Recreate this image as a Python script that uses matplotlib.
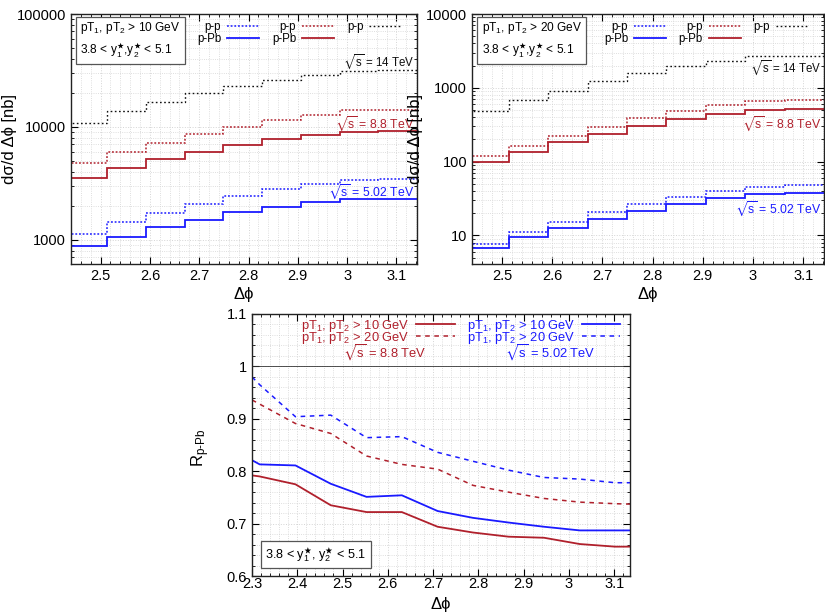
import numpy as np
import matplotlib
matplotlib.use("Agg")
import matplotlib.pyplot as plt
from matplotlib.lines import Line2D
from matplotlib.ticker import FuncFormatter, AutoMinorLocator, LogLocator, NullFormatter, MultipleLocator

plt.rcParams['font.family'] = ['Liberation Sans', 'DejaVu Sans']
plt.rcParams['mathtext.fontset'] = 'custom'
plt.rcParams['mathtext.rm'] = 'Liberation Sans'
plt.rcParams['mathtext.it'] = 'Liberation Sans:italic'
plt.rcParams['mathtext.bf'] = 'Liberation Sans:bold'
plt.rcParams['mathtext.fallback'] = 'stixsans'

# ---------------- data ----------------
phi_edges = [2.4347, 2.5133, 2.5918, 2.6704, 2.7489, 2.8274, 2.9060, 2.9845, 3.0631, 3.1416]

# pT > 10 GeV  (nb)
pp14_10   = [10900, 13900, 16500, 19900, 23100, 26100, 28700, 31300, 31700]
pp88_10   = [4800, 5970, 7160, 8610, 10060, 11460, 12770, 13970, 14130]
pPb88_10  = [3560, 4280, 5180, 6010, 6940, 7780, 8500, 9040, 9160]
pp502_10  = [1130, 1430, 1720, 2080, 2430, 2810, 3130, 3380, 3420]
pPb502_10 = [873, 1060, 1290, 1510, 1760, 1960, 2150, 2290, 2320]

# pT > 20 GeV  (nb)
pp14_20   = [481, 676, 914, 1222, 1600, 1987, 2322, 2657, 2713]
pp88_20   = [117.5, 164, 223, 296, 395, 491, 592, 670, 691]
pPb88_20  = [99.6, 137, 182, 240, 308, 379, 438, 496, 511]
pp502_20  = [7.6, 11.0, 15.0, 20.6, 26.4, 33.2, 40.0, 45.8, 47.7]
pPb502_20 = [6.8, 9.6, 12.8, 16.9, 21.7, 27.0, 31.8, 36.1, 37.2]

# nuclear modification factor
phi_R   = [2.300, 2.317, 2.396, 2.474, 2.553, 2.631, 2.710, 2.788, 2.867, 2.945, 3.024, 3.102, 3.142]
R88_10  = [0.792, 0.790, 0.775, 0.735, 0.722, 0.722, 0.694, 0.683, 0.675, 0.673, 0.661, 0.656, 0.656]
R88_20  = [0.936, 0.928, 0.891, 0.872, 0.829, 0.813, 0.804, 0.773, 0.760, 0.748, 0.741, 0.738, 0.737]
R502_10 = [0.821, 0.813, 0.811, 0.776, 0.751, 0.754, 0.724, 0.711, 0.702, 0.694, 0.687, 0.687, 0.687]
R502_20 = [0.980, 0.965, 0.904, 0.907, 0.864, 0.866, 0.836, 0.819, 0.802, 0.788, 0.785, 0.778, 0.778]

RED = '#b0202c'
BLUE = '#1a1aff'
BLACK = '#111111'
GRID = '#d4d4d4'

fig = plt.figure(figsize=(8.25, 6.12), dpi=100)
W, H = 825.0, 612.0
ax1 = fig.add_axes([71/W, 1-264/H, 346/W, 250/H])
ax2 = fig.add_axes([472/W, 1-264/H, 352/W, 250/H])
ax3 = fig.add_axes([252/W, 1-576/H, 378/W, 262/H])

TICK_FS = 10.5
LAB_FS = 12
LEG_FS = 8.3

def style_axes(ax):
    for s in ax.spines.values():
        s.set_linewidth(1.0)
        s.set_color('#222222')
    ax.tick_params(which='both', direction='in', top=True, right=True, labelsize=TICK_FS)
    ax.tick_params(which='major', length=5, width=0.8)
    ax.tick_params(which='minor', length=2.5, width=0.6)
    ax.grid(which='major', color=GRID, linestyle=':', linewidth=0.7)
    ax.grid(which='minor', color=GRID, linestyle=':', linewidth=0.6)
    ax.set_axisbelow(True)

def top_panel(ax, data, ylim, ptlabel, lab_y, ylab_x):
    pp14, pp88, pPb88, pp502, pPb502 = data
    ax.stairs(pp502, phi_edges, color=BLUE, linestyle=(0, (1.2, 1.2)), lw=1.1, baseline=None)
    ax.stairs(pPb502, phi_edges, color=BLUE, linestyle='-', lw=1.3, baseline=None)
    ax.stairs(pp88, phi_edges, color=RED, linestyle=(0, (1.2, 1.2)), lw=1.1, baseline=None)
    ax.stairs(pPb88, phi_edges, color=RED, linestyle='-', lw=1.3, baseline=None)
    ax.stairs(pp14, phi_edges, color=BLACK, linestyle=(0, (1.2, 1.8)), lw=1.0, baseline=None)
    ax.set_yscale('log')
    ax.set_xlim(2.44, np.pi)
    ax.set_ylim(*ylim)
    ax.xaxis.set_major_locator(MultipleLocator(0.1))
    ax.xaxis.set_minor_locator(AutoMinorLocator(5))
    ax.xaxis.set_major_formatter(FuncFormatter(lambda v, p: ('%g' % round(v, 2))))
    ax.yaxis.set_major_locator(LogLocator(base=10, numticks=10))
    ax.yaxis.set_minor_locator(LogLocator(base=10, subs=np.arange(2, 10), numticks=20))
    ax.yaxis.set_minor_formatter(NullFormatter())
    ax.yaxis.set_major_formatter(FuncFormatter(lambda v, p: '%d' % round(v)))
    style_axes(ax)
    ax.set_xlabel('Δϕ', fontsize=LAB_FS, labelpad=3)
    ax.set_ylabel('dσ/d Δϕ [nb]', fontsize=LAB_FS)
    ax.yaxis.set_label_coords(ylab_x, 0.5)

    ax.text(0.027, 0.975,
            ptlabel + '\n' + r'3.8 < y$_1^{\bigstar}$,y$_2^{\bigstar}$ < 5.1',
            transform=ax.transAxes, ha='left', va='top', fontsize=LEG_FS + 0.3, linespacing=1.45,
            bbox=dict(boxstyle='square,pad=0.35', fc='white', ec='#555555', lw=0.9))

    handles = [Line2D([], [], color=BLUE, ls=(0, (1.2, 1.2)), lw=1.1),
               Line2D([], [], color=BLUE, ls='-', lw=1.3),
               Line2D([], [], color=RED, ls=(0, (1.2, 1.2)), lw=1.1),
               Line2D([], [], color=RED, ls='-', lw=1.3),
               Line2D([], [], color=BLACK, ls=(0, (1.2, 1.8)), lw=1.0)]
    labels = ['p-p', 'p-Pb', 'p-p', 'p-Pb', 'p-p']
    ax.legend(handles, labels, ncol=3, markerfirst=False, frameon=False, fontsize=LEG_FS,
              loc='upper right', bbox_to_anchor=(0.975, 0.998), labelspacing=-0.05,
              handlelength=2.8, handletextpad=0.5, columnspacing=1.1, borderaxespad=0.2)

    ax.text(0.992, lab_y[0], r'$\sqrt{\mathrm{s}}$ = 14 TeV', transform=ax.transAxes,
            ha='right', va='center', fontsize=LEG_FS, color=BLACK)
    ax.text(0.992, lab_y[1], r'$\sqrt{\mathrm{s}}$ = 8.8 TeV', transform=ax.transAxes,
            ha='right', va='center', fontsize=LEG_FS + 0.5, color=RED)
    ax.text(0.992, lab_y[2], r'$\sqrt{\mathrm{s}}$ = 5.02 TeV', transform=ax.transAxes,
            ha='right', va='center', fontsize=LEG_FS + 0.5, color=BLUE)

top_panel(ax1, (pp14_10, pp88_10, pPb88_10, pp502_10, pPb502_10), (610, 100000),
          r'pT$_1$, pT$_2$ > 10 GeV', (0.808, 0.562, 0.288), -0.156)
top_panel(ax2, (pp14_20, pp88_20, pPb88_20, pp502_20, pPb502_20), (4.1, 10000),
          r'pT$_1$, pT$_2$ > 20 GeV', (0.784, 0.562, 0.220), -0.139)

# ---------------- bottom panel ----------------
ax = ax3
l1, = ax.plot(phi_R, R88_10, color=RED, lw=1.3, ls='-')
l2, = ax.plot(phi_R, R88_20, color=RED, lw=1.1, ls=(0, (3, 3)))
l3, = ax.plot(phi_R, R502_10, color=BLUE, lw=1.3, ls='-')
l4, = ax.plot(phi_R, R502_20, color=BLUE, lw=1.1, ls=(0, (3, 3)))
ax.axhline(1.0, color='#333333', lw=0.6)
ax.set_xlim(2.3, 3.135)
ax.set_ylim(0.6, 1.1)
ax.xaxis.set_major_locator(MultipleLocator(0.1))
ax.xaxis.set_minor_locator(AutoMinorLocator(5))
ax.yaxis.set_major_locator(MultipleLocator(0.1))
ax.yaxis.set_minor_locator(AutoMinorLocator(5))
ax.xaxis.set_major_formatter(FuncFormatter(lambda v, p: ('%g' % round(v, 2))))
ax.yaxis.set_major_formatter(FuncFormatter(lambda v, p: ('%g' % round(v, 2))))
style_axes(ax)
ax.tick_params(axis='x', pad=1)
ax.set_xlabel('Δϕ', fontsize=LAB_FS, labelpad=4)
ax.set_ylabel(r'R$_{\mathrm{p}\text{-}\mathrm{Pb}}$', fontsize=LAB_FS)
ax.yaxis.set_label_coords(-0.106, 0.49)

legr = ax.legend([l1, l2], [r'pT$_1$, pT$_2$ > 10 GeV', r'pT$_1$, pT$_2$ > 20 GeV'],
                 markerfirst=False, frameon=False, fontsize=LEG_FS + 1, loc='upper left',
                 bbox_to_anchor=(0.1, 1.03), labelspacing=-0.3, handlelength=3.0,
                 handletextpad=0.5, labelcolor=RED)
ax.add_artist(legr)
ax.legend([l3, l4], [r'pT$_1$, pT$_2$ > 10 GeV', r'pT$_1$, pT$_2$ > 20 GeV'],
          markerfirst=False, frameon=False, fontsize=LEG_FS + 1, loc='upper left',
          bbox_to_anchor=(0.537, 1.03), labelspacing=-0.3, handlelength=3.0,
          handletextpad=0.5, labelcolor=BLUE)
ax.text(0.352, 0.852, r'$\sqrt{\mathrm{s}}$ = 8.8 TeV', transform=ax.transAxes,
        ha='center', va='center', fontsize=LEG_FS + 1, color=RED)
ax.text(0.79, 0.852, r'$\sqrt{\mathrm{s}}$ = 5.02 TeV', transform=ax.transAxes,
        ha='center', va='center', fontsize=LEG_FS + 1, color=BLUE)
ax.text(0.035, 0.082, r'3.8 < y$_1^{\bigstar}$, y$_2^{\bigstar}$ < 5.1', transform=ax.transAxes,
        ha='left', va='center', fontsize=LEG_FS + 0.8,
        bbox=dict(boxstyle='square,pad=0.35', fc='white', ec='#555555', lw=0.9))

fig.savefig('out.png', dpi=100)
